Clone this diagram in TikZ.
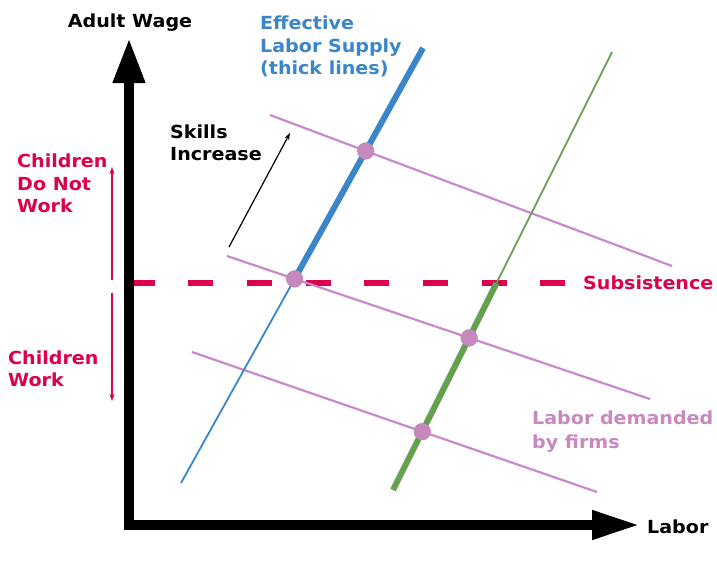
\documentclass[tikz,border=0pt]{standalone}
\usepackage{fontspec}
\setmainfont{DejaVu Sans}[FakeStretch=1.06]
\usetikzlibrary{arrows.meta}

\definecolor{crimson}{RGB}{220,0,78}
\definecolor{mauve}{RGB}{200,138,200}
\definecolor{dotmauve}{RGB}{198,137,188}
\definecolor{mauvetext}{RGB}{200,136,192}
\definecolor{supplyblue}{RGB}{58,134,200}
\definecolor{supplygreen}{RGB}{100,160,80}

\tikzset{
  lbl/.style={font=\bfseries\fontsize{18}{22.5}\selectfont, inner sep=0pt, anchor=base west, align=left},
  demand/.style={mauve, line width=2.2pt},
  thinsupply/.style={line width=1.8pt},
  thicksupply/.style={line width=6pt},
  eqdot/.style={circle, fill=dotmauve, minimum size=17pt, inner sep=0pt},
  bracearrow/.style={crimson, line width=1.8pt, -{Stealth[length=7pt,width=5pt]}},
}

\begin{document}
\begin{tikzpicture}[x=1pt, y=-1pt]
  \useasboundingbox (0,0) rectangle (717,576);
  \fill[white] (0,0) rectangle (717,576);

  % axes reference points
  \coordinate (origin) at (129,525);
  \coordinate (ytip) at (129,38);
  \coordinate (xtip) at (640,525);

  % supply lines
  \coordinate (blueA) at (181,483);
  \coordinate (blueB) at (423,48);
  \coordinate (greenA) at (393,490);
  \coordinate (greenB) at (612,52);

  % demand lines
  \coordinate (dem1A) at (270,115);
  \coordinate (dem1B) at (672,266);
  \coordinate (dem2A) at (227,256);
  \coordinate (dem2B) at (650,399);
  \coordinate (dem3A) at (192,352);
  \coordinate (dem3B) at (597,492);

  % subsistence level
  \coordinate (subA) at (129.5,283);
  \coordinate (subB) at (570,283);
  \coordinate (greenSub) at (intersection of greenA--greenB and subA--subB);

  % subsistence line
  \draw[crimson, line width=5.5pt, dash pattern=on 25pt off 33.7pt] (subA) -- (subB);

  % demand curves
  \draw[demand] (dem1A) -- (dem1B);
  \draw[demand] (dem2A) -- (dem2B);
  \draw[demand] (dem3A) -- (dem3B);

  % equilibrium points
  \node[eqdot] (e1) at (intersection of dem1A--dem1B and blueA--blueB) {};
  \node[eqdot] (e2) at (intersection of dem2A--dem2B and blueA--blueB) {};
  \node[eqdot] (e3) at (intersection of dem2A--dem2B and greenA--greenB) {};
  \node[eqdot] (e4) at (intersection of dem3A--dem3B and greenA--greenB) {};

  % supply curves: thick where effective
  \draw[supplyblue, thinsupply] (blueA) -- (e2.center);
  \draw[supplyblue, thicksupply] (e2.center) -- (blueB);
  \draw[supplygreen, thicksupply] (greenA) -- (greenSub);
  \draw[supplygreen, thinsupply] (greenSub) -- (greenB);

  % redraw dots on top
  \node[eqdot] at (e1) {};
  \node[eqdot] at (e2) {};
  \node[eqdot] at (e3) {};
  \node[eqdot] at (e4) {};

  % axes
  \draw[line width=10pt, line join=miter,
        {Triangle[length=45pt,width=30pt]}-{Triangle[length=48pt,width=27pt]}]
        (ytip) -- (origin) -- (xtip);

  % skills arrow
  \coordinate (skA) at (229,247);
  \coordinate (skB) at (290,133);
  \draw[line width=1.2pt, -{Stealth[length=7pt,width=5pt]}] (skA) -- (skB);

  % children arrows
  \coordinate (cnA) at (112,280);
  \coordinate (cnB) at (112,167);
  \coordinate (cwA) at (112,293);
  \coordinate (cwB) at (112,401);
  \draw[bracearrow] (cnA) -- (cnB);
  \draw[bracearrow] (cwA) -- (cwB);

  % labels (multi-line labels are placed by the baseline of their last line)
  \node[lbl, anchor=base] (ywage) at (130,27) {Adult Wage};
  \node[lbl] (xlabor) at (647,533) {Labor};
  \node[lbl, text=crimson] (subsist) at (583,289) {Subsistence};
  \node[lbl, text=mauvetext, font=\bfseries\fontsize{18}{24}\selectfont] (demlbl) at (532,448.5) {Labor demanded\\by firms};
  \node[lbl, text=supplyblue] (suplbl) at (260,74.5) {Effective\\Labor Supply\\(thick lines)};
  \node[lbl, font=\bfseries\fontsize{18}{22}\selectfont] (skills) at (170,160.5) {Skills\\Increase};
  \node[lbl, text=crimson] (nowork) at (17,212.5) {Children\\Do Not\\Work};
  \node[lbl, text=crimson, font=\bfseries\fontsize{18}{22}\selectfont] (work) at (8,386.5) {Children\\Work};
\end{tikzpicture}
\end{document}
